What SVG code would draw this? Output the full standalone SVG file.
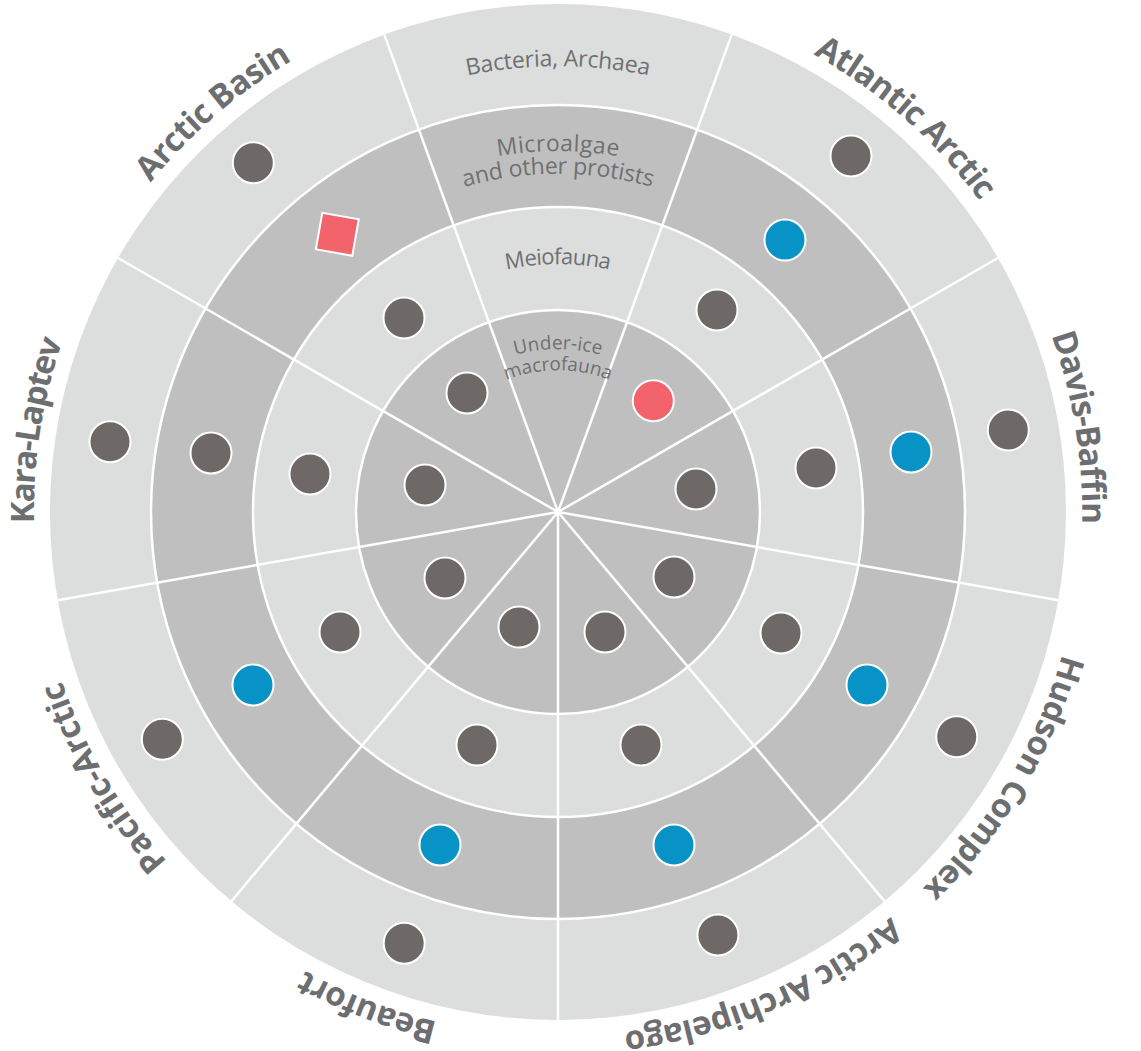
<svg xmlns="http://www.w3.org/2000/svg" width="1141" height="1051" viewBox="0 0 1141 1051">
<style>
.light{fill:#dcdddd}
.dark{fill:#bfbfbf}
.ringline{fill:none;stroke:#ffffff;stroke-width:2.5}
.div{stroke:#ffffff;stroke-width:2.5;fill:none}
.region{font-family:"Open Sans","Liberation Sans",sans-serif;font-weight:700;font-size:33px;fill:#6d6e70}
.small{font-family:"Open Sans","Liberation Sans",sans-serif;font-weight:400;fill:#6f7072}
.g{fill:#6e6867;stroke:#ffffff;stroke-width:2}
.b{fill:#0893c6;stroke:#ffffff;stroke-width:2}
.r{fill:#f2636b;stroke:#ffffff;stroke-width:2}
</style>
<defs>
<path id="pAB" d="M107.7,779.9 A524,524 0 0 1 889.5,106.2"/>
<path id="pAA" d="M231.1,102.5 A524,524 0 0 1 1005.3,785.0"/>
<path id="pDB" d="M565.3,-11.95 A524,524 0 0 1 730.3,1006.9"/>
<path id="pHC" d="M900.7,115.6 A524,524 0 0 1 371.5,1001.7"/>
<path id="pAR" d="M1068.0,391.5 A524,524 0 0 1 120.0,799.7"/>
<path id="pBF" d="M1006.7,782.6 A524,524 0 0 1 43.8,411.1"/>
<path id="pPA" d="M739.8,1003.5 A524,524 0 0 1 219.1,112.3"/>
<path id="pKL" d="M388.3,1007.8 A524,524 0 0 1 547.9,-11.9"/>
<path id="pBact" d="M118.8,434.6 A446,446 0 0 1 997.2,434.6"/>
<path id="pMicro" d="M202.5,449.3 A361,361 0 0 1 913.5,449.3"/>
<path id="pProt" d="M225.1,453.3 A338,338 0 0 1 890.9,453.3"/>
<path id="pMeio" d="M313.8,468.9 A248,248 0 0 1 802.2,468.9"/>
<path id="pUnder" d="M397.5,483.7 A163,163 0 0 1 718.5,483.7"/>
<path id="pMacro" d="M418.2,487.4 A142,142 0 0 1 697.8,487.4"/>
</defs>

<g id="rings">
<circle class="light" cx="558" cy="512" r="508"/>
<circle class="dark" cx="558" cy="512" r="407"/>
<circle class="light" cx="558" cy="512" r="305"/>
<circle class="dark" cx="558" cy="512" r="202"/>
<circle class="ringline" cx="558" cy="512" r="407"/>
<circle class="ringline" cx="558" cy="512" r="305"/>
<circle class="ringline" cx="558" cy="512" r="202"/>
</g>

<g id="connectors">
<line class="div" x1="558" y1="512" x2="731.7" y2="34.6"/>
<line class="div" x1="558" y1="512" x2="997.9" y2="258"/>
<line class="div" x1="558" y1="512" x2="1058.3" y2="600.2"/>
<line class="div" x1="558" y1="512" x2="884.5" y2="901.1"/>
<line class="div" x1="558" y1="512" x2="558" y2="1020"/>
<line class="div" x1="558" y1="512" x2="231.5" y2="901.1"/>
<line class="div" x1="558" y1="512" x2="57.7" y2="600.2"/>
<line class="div" x1="558" y1="512" x2="118.1" y2="258"/>
<line class="div" x1="558" y1="512" x2="384.3" y2="34.6"/>
</g>

<g id="ring-labels">
<text class="small" font-size="23"><textPath href="#pBact" startOffset="50%" text-anchor="middle" textLength="183">Bacteria, Archaea</textPath></text>
<text class="small" font-size="23"><textPath href="#pMicro" startOffset="50%" text-anchor="middle" textLength="121">Microalgae</textPath></text>
<text class="small" font-size="23"><textPath href="#pProt" startOffset="50%" text-anchor="middle" textLength="190">and other protists</textPath></text>
<text class="small" font-size="22"><textPath href="#pMeio" startOffset="50%" text-anchor="middle" textLength="104">Meiofauna</textPath></text>
<text class="small" font-size="19"><textPath href="#pUnder" startOffset="50%" text-anchor="middle" textLength="87">Under-ice</textPath></text>
<text class="small" font-size="19"><textPath href="#pMacro" startOffset="50%" text-anchor="middle" textLength="106">macrofauna</textPath></text>
</g>

<g id="arctic-basin">
<text class="region"><textPath href="#pAB" startOffset="50%" text-anchor="middle" textLength="188">Arctic Basin</textPath></text>
<circle class="g" cx="253.3" cy="162.7" r="20.5"/>
<rect class="r" x="318.8" y="215.8" width="37" height="37" transform="rotate(10 337.3 234.3)"/>
<circle class="g" cx="404" cy="318" r="20.5"/>
<circle class="g" cx="467" cy="393" r="20.5"/>
</g>

<g id="atlantic-arctic">
<text class="region"><textPath href="#pAA" startOffset="50%" text-anchor="middle" textLength="224">Atlantic Arctic</textPath></text>
<circle class="g" cx="851" cy="156" r="20.5"/>
<circle class="b" cx="785" cy="240" r="20.5"/>
<circle class="g" cx="717" cy="310" r="20.5"/>
<circle class="r" cx="653.3" cy="400.7" r="20.5"/>
</g>

<g id="davis-baffin">
<text class="region"><textPath href="#pDB" startOffset="50%" text-anchor="middle" textLength="192">Davis-Baffin</textPath></text>
<circle class="g" cx="1008.3" cy="430" r="20.5"/>
<circle class="b" cx="911" cy="452" r="20.5"/>
<circle class="g" cx="816" cy="468" r="20.5"/>
<circle class="g" cx="696" cy="489" r="20.5"/>
</g>

<g id="hudson-complex">
<text class="region"><textPath href="#pHC" startOffset="50%" text-anchor="middle" textLength="276">Hudson Complex</textPath></text>
<circle class="g" cx="956.7" cy="736.7" r="20.5"/>
<circle class="b" cx="867" cy="685" r="20.5"/>
<circle class="g" cx="781" cy="633" r="20.5"/>
<circle class="g" cx="674" cy="577" r="20.5"/>
</g>

<g id="arctic-archipelago">
<text class="region"><textPath href="#pAR" startOffset="50%" text-anchor="middle" textLength="295">Arctic Archipelago</textPath></text>
<circle class="g" cx="717.9" cy="935" r="20.5"/>
<circle class="b" cx="674" cy="845" r="20.5"/>
<circle class="g" cx="641" cy="745" r="20.5"/>
<circle class="g" cx="605" cy="632" r="20.5"/>
</g>

<g id="beaufort">
<text class="region"><textPath href="#pBF" startOffset="50%" text-anchor="middle" textLength="143">Beaufort</textPath></text>
<circle class="g" cx="404.2" cy="943.3" r="20.5"/>
<circle class="b" cx="440" cy="845" r="20.5"/>
<circle class="g" cx="477" cy="745" r="20.5"/>
<circle class="g" cx="519" cy="627" r="20.5"/>
</g>

<g id="pacific-arctic">
<text class="region"><textPath href="#pPA" startOffset="50%" text-anchor="middle" textLength="211">Pacific-Arctic</textPath></text>
<circle class="g" cx="162.3" cy="739.3" r="20.5"/>
<circle class="b" cx="253" cy="685" r="20.5"/>
<circle class="g" cx="340" cy="632" r="20.5"/>
<circle class="g" cx="445" cy="578" r="20.5"/>
</g>

<g id="kara-laptev">
<text class="region"><textPath href="#pKL" startOffset="50%" text-anchor="middle" textLength="185">Kara-Laptev</textPath></text>
<circle class="g" cx="110" cy="441.7" r="20.5"/>
<circle class="g" cx="211" cy="453" r="20.5"/>
<circle class="g" cx="310" cy="474" r="20.5"/>
<circle class="g" cx="425" cy="485" r="20.5"/>
</g>
</svg>
